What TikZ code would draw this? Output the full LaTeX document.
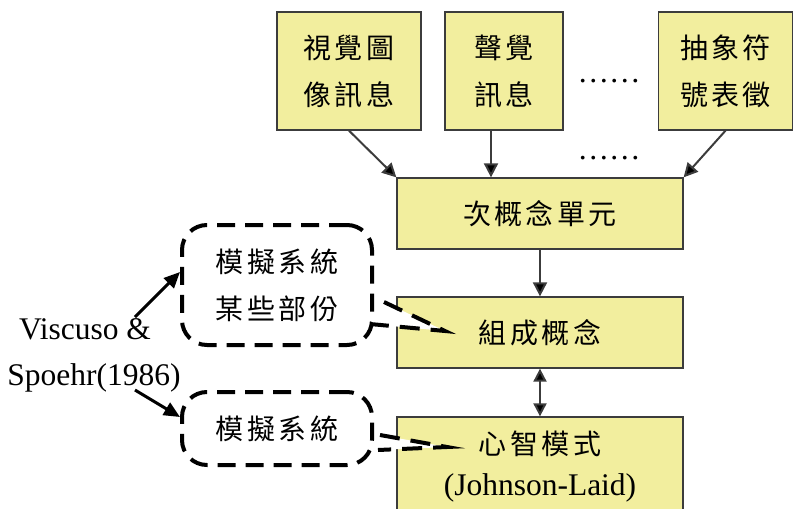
\documentclass[tikz,border=0pt]{standalone}
\usepackage{fontspec}
\setmainfont{Liberation Serif}
\newfontfamily\cjk[LetterSpace=12]{Noto Sans CJK TC}
\usetikzlibrary{arrows.meta}
\definecolor{boxfill}{RGB}{242,238,158}
\definecolor{boxline}{RGB}{60,60,60}
\newcommand\cjkf{\cjk\fontsize{28}{47}\selectfont}
\newcommand\latf{\fontsize{31.5}{41}\selectfont}
\begin{document}
\begin{tikzpicture}[x=1pt,y=-1pt,
  box/.style={draw=boxline, line width=1.3pt, fill=boxfill, align=center, inner sep=0pt, font=\cjkf},
  dbox/.style={draw=black, line width=4pt, dash pattern=on 18pt off 10pt, rounded corners=25pt, align=center, inner sep=0pt, font=\cjkf},
  arr/.style={draw=boxline, line width=2pt, -{Triangle[length=14pt,width=14pt,fill=black]}},
  darr/.style={draw=boxline, line width=2pt, {Triangle[length=13pt,width=13pt,fill=black]}-{Triangle[length=13pt,width=13pt,fill=black]}},
  varr/.style={line width=3pt, -{Triangle[length=16pt,width=14pt]}},
  wedge/.style={draw=black, line width=4pt, dash pattern=on 20pt off 11pt, fill=white},
  lat/.style={font=\latf, inner sep=0pt},
  dots/.style={font=\latf, inner sep=0pt, anchor=base}]
\useasboundingbox (0,0) rectangle (793,509);

% top boxes
\node[box, minimum width=144pt, minimum height=118pt] (b1) at (349,71) {視覺圖\\像訊息};
\node[box, minimum width=118pt, minimum height=118pt] (b2) at (504,71) {聲覺\\訊息};
\node[box, minimum width=134pt, minimum height=118pt] (b3) at (725.5,71) {抽象符\\號表徵};
\node[dots] (dt1) at (609,82) {……};
\node[dots] (dt2) at (609,159) {……};

% main column
\node[box, minimum width=286pt, minimum height=71pt] (sub) at (540,213.5) {次概念單元};
\node[box, minimum width=286pt, minimum height=71pt] (comp) at (540,332.5) {組成概念};
\node[box, minimum width=286pt, minimum height=100pt, font=\latf] (mm) at (540,467) {{\cjk\fontsize{28}{41}\selectfont 心智模式}\\(Johnson-Laid)};

% dashed boxes
\node[dbox, minimum width=190pt, minimum height=120pt] (d1) at (277,285) {模擬系統\\某些部份};
\node[dbox, minimum width=190pt, minimum height=73pt] (d2) at (277,428.5) {模擬系統};

% left text
\node[lat] (vs1) at (85,329) {Viscuso \&};
\node[lat] (vs2) at (94,378) {Spoehr(1986)};

% connectors
\draw[arr] (b1.south) -- (sub.north west);
\draw[arr] ([xshift=-13pt]b2.south) -- ([xshift=-13pt]b2.south |- sub.north);
\draw[arr] (b3.south) -- (sub.north east);
\draw[arr] (sub.south) -- (comp.north);
\draw[darr] (comp.south) -- (mm.north);

\coordinate (s1) at (135,317);
\coordinate (s2) at (135,390);
\draw[varr] (s1) -- ([yshift=13pt]d1.west);
\draw[varr] (s2) -- ([yshift=11.5pt]d2.west);

% dashed wedge arrows
\coordinate (w1a) at (384,302);
\coordinate (w1b) at (370,324);
\coordinate (t1) at (445,331);
\draw[wedge] (w1a) -- (t1) -- (w1b);
\coordinate (w2a) at (380,435);
\coordinate (w2b) at (378,450);
\coordinate (t2) at (447,447);
\draw[wedge] (w2a) -- (t2) -- (w2b);
\end{tikzpicture}
\end{document}
